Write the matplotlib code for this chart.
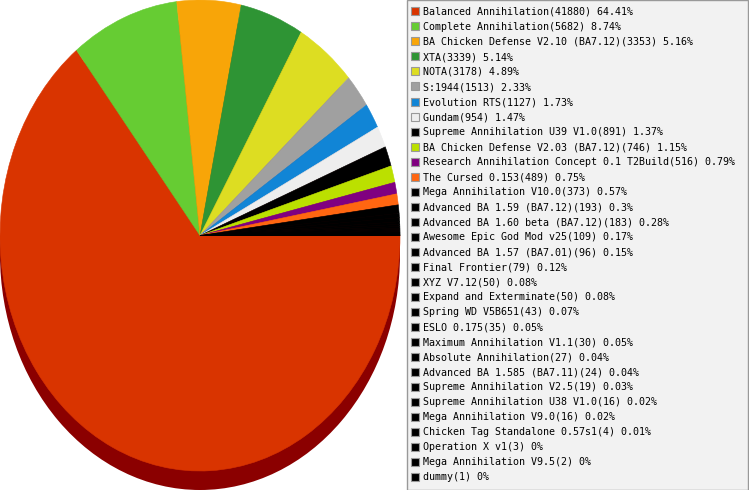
import matplotlib
matplotlib.use("Agg")
import matplotlib.pyplot as plt
from matplotlib.patches import Rectangle, Ellipse

names = [
    "Balanced Annihilation", "Complete Annihilation", "BA Chicken Defense V2.10 (BA7.12)",
    "XTA", "NOTA", "S:1944", "Evolution RTS", "Gundam", "Supreme Annihilation U39 V1.0",
    "BA Chicken Defense V2.03 (BA7.12)", "Research Annihilation Concept 0.1 T2Build",
    "The Cursed 0.153", "Mega Annihilation V10.0", "Advanced BA 1.59 (BA7.12)",
    "Advanced BA 1.60 beta (BA7.12)", "Awesome Epic God Mod v25", "Advanced BA 1.57 (BA7.01)",
    "Final Frontier", "XYZ V7.12", "Expand and Exterminate", "Spring WD V5B651", "ESLO 0.175",
    "Maximum Annihilation V1.1", "Absolute Annihilation", "Advanced BA 1.585 (BA7.11)",
    "Supreme Annihilation V2.5", "Supreme Annihilation U38 V1.0", "Mega Annihilation V9.0",
    "Chicken Tag Standalone 0.57s1", "Operation X v1", "Mega Annihilation V9.5", "dummy",
]
values = [41880, 5682, 3353, 3339, 3178, 1513, 1127, 954, 891, 746, 516, 489, 373, 193,
          183, 109, 96, 79, 50, 50, 43, 35, 30, 27, 24, 19, 16, 16, 4, 3, 2, 1]
pcts = ["64.41%", "8.74%", "5.16%", "5.14%", "4.89%", "2.33%", "1.73%", "1.47%", "1.37%",
        "1.15%", "0.79%", "0.75%", "0.57%", "0.3%", "0.28%", "0.17%", "0.15%", "0.12%",
        "0.08%", "0.08%", "0.07%", "0.05%", "0.05%", "0.04%", "0.04%", "0.03%", "0.02%",
        "0.02%", "0.01%", "0%", "0%", "0%"]
colors = ["#D93400", "#66CC33", "#F8A508", "#2E9434", "#DDDD22", "#A0A0A0", "#1185D6",
          "#EEEEEE", "#000000", "#BBE000", "#800080", "#FF6611"] + ["#000000"] * 20

W, H = 749, 490
fig = plt.figure(figsize=(W / 100, H / 100), dpi=100)

# pie geometry (pixels)
pie_w = 400
pie_h = 471
depth = 19

# shadow / side
ax_s = fig.add_axes([0, 0, pie_w / W, pie_h / H])
ax_s.add_patch(Ellipse((0, 0), 2, 2, facecolor="#8B0000", edgecolor="none"))
ax_s.set_xlim(-1, 1)
ax_s.set_ylim(-1, 1)
ax_s.set_aspect("auto")
ax_s.axis("off")

# top surface
ax = fig.add_axes([0, depth / H, pie_w / W, pie_h / H])
wedges, _ = ax.pie(values, colors=colors, startangle=0, counterclock=False,
                   wedgeprops=dict(linewidth=0.4, antialiased=True))
for w in wedges:
    w.set_edgecolor(w.get_facecolor())
ax.set_xlim(-1, 1)
ax.set_ylim(-1, 1)
ax.set_aspect("auto")
ax.axis("off")

# legend overlay in pixel coords
lg = fig.add_axes([0, 0, 1, 1])
lg.set_xlim(0, W)
lg.set_ylim(H, 0)
lg.axis("off")
lg.add_patch(Rectangle((406.5, 0.5), 341, 489, facecolor="#F2F2F2",
                       edgecolor="#999999", linewidth=1))
y0, dy = 12, 15
for i, (n, v, p, c) in enumerate(zip(names, values, pcts, colors)):
    y = y0 + i * dy
    lg.add_patch(Rectangle((410.5, y - 4.5), 8, 8, facecolor=c,
                           edgecolor="#999999", linewidth=0.8))
    lg.text(423, y, f"{n}({v}) {p}", fontsize=7.2, family="DejaVu Sans Mono",
            va="center", ha="left", color="#000000")

fig.savefig("out.png", dpi=100)
